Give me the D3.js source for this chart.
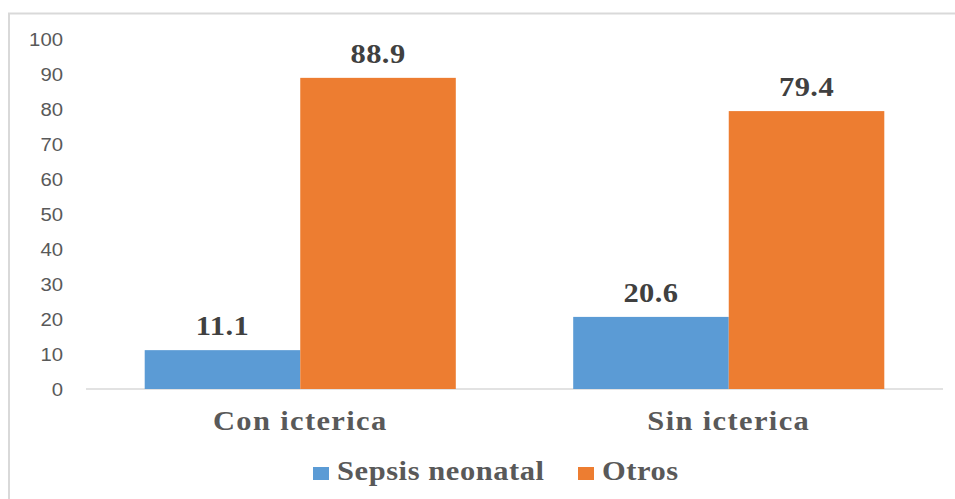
<!DOCTYPE html>
<html>
<head>
<meta charset="utf-8">
<script src="https://cdn.jsdelivr.net/npm/d3@7"></script>
<style>
  body { margin: 0; background: #fff; }
  svg { display: block; }
</style>
</head>
<body>
<svg id="chart" width="955" height="499"></svg>
<script>
const categories = ['Con icterica', 'Sin icterica'];
const seriesNames = ['Sepsis neonatal', 'Otros'];
const sepsisValues = [11.1, 20.6];
const otrosValues = [88.9, 79.4];
const yTicks = [0, 10, 20, 30, 40, 50, 60, 70, 80, 90, 100];

const colors = ['#5B9BD5', '#ED7D31'];
const stretch = 1.13;

const svg = d3.select('svg#chart');

// frame (only left and top edges are visible in the original)
svg.append('rect')
  .attr('x', 9)
  .attr('y', 13.5)
  .attr('width', 1000)
  .attr('height', 600)
  .attr('fill', 'none')
  .attr('stroke', '#d9d9d9')
  .attr('stroke-width', 2);

const y = d3.scaleLinear().domain([0, 100]).range([389, 39]);
const x = d3.scaleBand().domain(categories).range([86, 943])
  .paddingInner(0.274).paddingOuter(0.137);
const xs = d3.scaleBand().domain(seriesNames).range([0, x.bandwidth()]);

const stretchedText = (parent, px, py, txt) => parent.append('text')
  .attr('transform', `translate(${px},${py}) scale(${stretch},1)`)
  .text(txt);

// y tick labels
const tickGroup = svg.append('g')
  .attr('font-family', 'Liberation Sans, Arial, sans-serif')
  .attr('font-size', 18)
  .attr('fill', '#595959')
  .attr('text-anchor', 'end');
yTicks.forEach(t => {
  stretchedText(tickGroup, 63, y(t) + 6.5, t);
});

// baseline
svg.append('line')
  .attr('x1', 86)
  .attr('x2', 943)
  .attr('y1', y(0))
  .attr('y2', y(0))
  .attr('stroke', '#d9d9d9')
  .attr('stroke-width', 1.5);

const rows = categories.map((c, i) => ({
  category: c,
  values: [sepsisValues[i], otrosValues[i]]
}));

const groups = svg.selectAll('g.cat')
  .data(rows)
  .enter().append('g')
  .attr('class', 'cat')
  .attr('transform', d => `translate(${x(d.category)},0)`);

groups.selectAll('rect')
  .data(d => d.values.map((v, j) => ({ name: seriesNames[j], value: v, idx: j })))
  .enter().append('rect')
  .attr('x', d => xs(d.name))
  .attr('y', d => y(d.value))
  .attr('width', xs.bandwidth())
  .attr('height', d => y(0) - y(d.value))
  .attr('fill', d => colors[d.idx]);

// data labels
const labelGroup = svg.append('g')
  .attr('font-family', 'Liberation Serif, Times New Roman, serif')
  .attr('font-weight', 'bold')
  .attr('font-size', 27)
  .attr('letter-spacing', 0.4)
  .attr('fill', '#404040')
  .attr('text-anchor', 'middle');
rows.forEach(r => {
  r.values.forEach((v, j) => {
    const cx = x(r.category) + xs(seriesNames[j]) + xs.bandwidth() / 2;
    stretchedText(labelGroup, cx, y(v) - 15, v.toFixed(1));
  });
});

// category labels
const catGroup = svg.append('g')
  .attr('font-family', 'Liberation Serif, Times New Roman, serif')
  .attr('font-weight', 'bold')
  .attr('font-size', 27)
  .attr('letter-spacing', 1.2)
  .attr('fill', '#595959')
  .attr('text-anchor', 'middle');
categories.forEach(c => {
  stretchedText(catGroup, x(c) + x.bandwidth() / 2, 430, c);
});

// legend
const legendX = [313, 578];
const legend = svg.append('g')
  .attr('font-family', 'Liberation Serif, Times New Roman, serif')
  .attr('font-weight', 'bold')
  .attr('font-size', 27)
  .attr('letter-spacing', 0.5)
  .attr('fill', '#595959');
seriesNames.forEach((s, i) => {
  legend.append('rect')
    .attr('x', legendX[i])
    .attr('y', 467)
    .attr('width', 16)
    .attr('height', 13)
    .attr('fill', colors[i]);
  stretchedText(legend, legendX[i] + 24, 480, s);
});
</script>
</body>
</html>
